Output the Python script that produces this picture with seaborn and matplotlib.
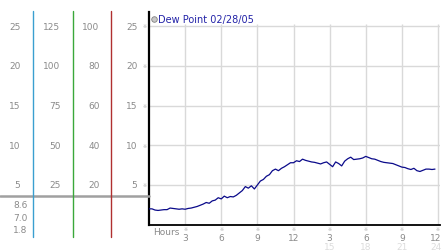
import numpy as np
import pandas as pd
import matplotlib
matplotlib.use("Agg")
import matplotlib.pyplot as plt
import seaborn as sns

# ---------------- data ----------------
hours = [i * 0.25 for i in range(96)]
dew_point = [
    2.0, 2.0, 1.85, 1.8, 1.85, 1.9, 1.9, 2.1, 2.05, 2.0, 1.95, 2.0,
    1.95, 2.05, 2.1, 2.2, 2.3, 2.45, 2.6, 2.8, 2.7, 3.0, 3.1, 3.4,
    3.25, 3.6, 3.4, 3.55, 3.5, 3.7, 4.0, 4.3, 4.8, 4.6, 4.9, 4.5,
    5.0, 5.5, 5.7, 6.1, 6.3, 6.8, 7.0, 6.8, 7.1, 7.3, 7.55, 7.8,
    7.8, 8.05, 7.95, 8.25, 8.1, 8.0, 7.9, 7.85, 7.75, 7.65, 7.8, 7.9,
    7.6, 7.3, 7.9, 7.7, 7.4, 8.0, 8.3, 8.5, 8.2, 8.25, 8.3, 8.4,
    8.6, 8.45, 8.3, 8.25, 8.1, 7.95, 7.85, 7.8, 7.75, 7.7, 7.55, 7.4,
    7.25, 7.2, 7.05, 6.95, 7.1, 6.8, 6.7, 6.85, 7.0, 7.0, 6.95, 7.0,
]
title = "Dew Point 02/28/05"
grid_vals = [5, 10, 15, 20, 25]
col1_labels = ["5", "10", "15", "20", "25"]
col2_labels = ["25", "50", "75", "100", "125"]
col3_labels = ["20", "40", "60", "80", "100"]
col4_labels = ["5", "10", "15", "20", "25"]
stats_labels = ["8.6", "7.0", "1.8"]
x_ticks = [3, 6, 9, 12, 15, 18, 21, 24]
x_labels_top = ["3", "6", "9", "12", "3", "6", "9", "12"]
x_labels_bottom = ["15", "18", "21", "24"]
x_bottom_pos = [15, 18, 21, 24]

df = pd.DataFrame({"hour": hours, "dew": dew_point})

# ---------------- layout ----------------
W, H = 442, 253
fig = plt.figure(figsize=(W / 100, H / 100), dpi=100)
sns.set_style("white")
plt.rcParams["font.family"] = ["DejaVu Sans"]

def fx(x):
    return x / W

def fy(y):
    return 1 - y / H

x0, x24 = 149, 438
y0_pix, y_top = 225.75, 13
ppu = 7.95
ymax = (y0_pix - y_top) / ppu
xmax = 24 * (440 - x0) / (x24 - x0)

ax = fig.add_axes([fx(x0), fy(y0_pix), fx(440) - fx(x0), fy(y_top) - fy(y0_pix)])
ax.set_xlim(0, xmax)
ax.set_ylim(0, ymax)

# grid
ax.hlines(grid_vals, 0, xmax, color="#d9d9d9", lw=1, zorder=1)
ax.vlines(x_ticks, 0, 25.25, color="#d9d9d9", lw=1, zorder=1)

sns.lineplot(data=df, x="hour", y="dew", ax=ax, color="#0a0a8a", lw=0.9,
             zorder=3, legend=False)

ax.set_xticks([])
ax.set_yticks([])
ax.set_xlabel("")
ax.set_ylabel("")
for s in ["top", "right"]:
    ax.spines[s].set_visible(False)
ax.spines["left"].set_color("black")
ax.spines["left"].set_linewidth(1.6)
ax.spines["bottom"].set_color("black")
ax.spines["bottom"].set_linewidth(1.3)

# title / legend entry
fig.text(fx(158), fy(19.5), title, color="#2323a8", fontsize=7,
         ha="left", va="center")
fig.lines.append(plt.Line2D([fx(153.5)], [fy(20)], marker="o", markersize=4,
                            markerfacecolor="#c8c8c8", markeredgecolor="#808080",
                            markeredgewidth=0.6, transform=fig.transFigure))

# left scale columns
lab_color = "#8a8a8a"
fs = 6.5
for v, l1, l2, l3, l4 in zip(grid_vals, col1_labels, col2_labels, col3_labels, col4_labels):
    ypix = y0_pix - v * ppu
    fig.text(fx(20.5), fy(ypix), l1, color=lab_color, fontsize=fs, ha="right", va="center")
    fig.text(fx(60.5), fy(ypix), l2, color=lab_color, fontsize=fs, ha="right", va="center")
    fig.text(fx(99.5), fy(ypix), l3, color=lab_color, fontsize=fs, ha="right", va="center")
    fig.text(fx(137.5), fy(ypix), l4, color=lab_color, fontsize=fs, ha="right", va="center")
    fig.text(fx(144.5), fy(ypix), "\u203b", color="#b0b0b0", fontsize=3.5, ha="center", va="center")

for lab, ypix in zip(stats_labels, [206, 218.5, 231]):
    fig.text(fx(27.5), fy(ypix), lab, color=lab_color, fontsize=fs, ha="right", va="center")

# vertical colored lines and gray separator
for xp, c in [(33, "#3a9fd0"), (72.5, "#3aa83a"), (111, "#b03030")]:
    fig.lines.append(plt.Line2D([fx(xp), fx(xp)], [fy(12), fy(238)], color=c, lw=1.0,
                                transform=fig.transFigure))
fig.lines.append(plt.Line2D([fx(0), fx(149)], [fy(197), fy(197)], color="#a0a0a0", lw=1.8,
                            transform=fig.transFigure, zorder=0))

# x labels
fig.text(fx(153), fy(232.5), "Hours", color=lab_color, fontsize=fs, ha="left", va="center")
for h, l in zip(x_ticks, x_labels_top):
    xp = x0 + h * (x24 - x0) / 24
    fig.text(fx(xp), fy(229.5), "\u203b", color="#b0b0b0", fontsize=3.5, ha="center", va="center")
    if h == 24:
        fig.text(fx(441.5), fy(239), l, color=lab_color, fontsize=fs, ha="right", va="center")
    else:
        fig.text(fx(xp), fy(239), l, color=lab_color, fontsize=fs, ha="center", va="center")
for h, l in zip(x_bottom_pos, x_labels_bottom):
    xp = x0 + h * (x24 - x0) / 24
    if h == 24:
        fig.text(fx(441.5), fy(248), l, color="#dcdcdc", fontsize=fs, ha="right", va="center")
    else:
        fig.text(fx(xp), fy(248), l, color="#dcdcdc", fontsize=fs, ha="center", va="center")

fig.savefig("out.png", dpi=100)
